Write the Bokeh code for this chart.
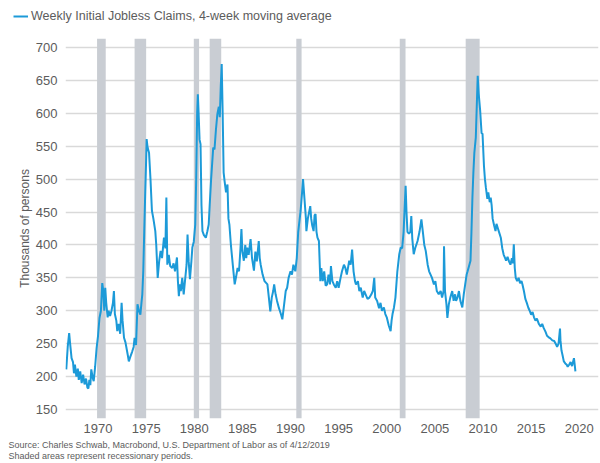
from bokeh.plotting import figure
from bokeh.layouts import column, row
from bokeh.models import (Range1d, FixedTicker, BoxAnnotation, Legend, LegendItem, Title)
from bokeh.embed import file_html
from bokeh.resources import INLINE

# Weekly initial jobless claims, 4-week moving average (thousands)
years = [
    1966.7, 1966.85, 1967.0, 1967.1, 1967.25, 1967.4, 1967.5, 1967.6, 1967.75, 1967.9,
    1968.0, 1968.15, 1968.3, 1968.45, 1968.6, 1968.75, 1968.9, 1969.0, 1969.1, 1969.2,
    1969.3, 1969.45, 1969.55, 1969.7, 1969.85, 1970.0, 1970.15, 1970.3, 1970.44, 1970.55,
    1970.65, 1970.75, 1970.85, 1971.0, 1971.1, 1971.25, 1971.4, 1971.55, 1971.65, 1971.75,
    1971.9, 1972.0, 1972.15, 1972.3, 1972.45, 1972.55, 1972.7, 1972.85, 1973.0, 1973.1,
    1973.2, 1973.35, 1973.55, 1973.7, 1973.8, 1973.95, 1974.1, 1974.25, 1974.4, 1974.5,
    1974.6, 1974.7, 1974.8, 1974.9, 1975.0, 1975.05, 1975.15, 1975.3, 1975.45, 1975.6,
    1975.75, 1975.95, 1976.05, 1976.2, 1976.35, 1976.5, 1976.65, 1976.85, 1977.0, 1977.1,
    1977.2, 1977.35, 1977.5, 1977.7, 1977.85, 1978.0, 1978.2, 1978.3, 1978.4, 1978.5,
    1978.6, 1978.75, 1978.9, 1979.0, 1979.1, 1979.2, 1979.3, 1979.42, 1979.55, 1979.7,
    1979.8, 1979.95, 1980.1, 1980.2, 1980.3, 1980.37, 1980.45, 1980.55, 1980.65, 1980.75,
    1980.85, 1981.0, 1981.2, 1981.35, 1981.5, 1981.6, 1981.75, 1981.97, 1982.1, 1982.25,
    1982.4, 1982.55, 1982.65, 1982.75, 1982.85, 1982.95, 1983.05, 1983.15, 1983.3, 1983.45,
    1983.55, 1983.65, 1983.8, 1984.0, 1984.2, 1984.35, 1984.5, 1984.65, 1984.8, 1984.9,
    1985.0, 1985.15, 1985.3, 1985.4, 1985.5, 1985.65, 1985.85, 1986.0, 1986.2, 1986.35,
    1986.5, 1986.7, 1986.8, 1986.9, 1987.1, 1987.3, 1987.6, 1987.75, 1987.9, 1988.05,
    1988.2, 1988.3, 1988.45, 1988.6, 1988.8, 1989.0, 1989.15, 1989.3, 1989.5, 1989.65,
    1989.8, 1990.0, 1990.15, 1990.3, 1990.5, 1990.65, 1990.8, 1991.05, 1991.2, 1991.3,
    1991.45, 1991.6, 1991.65, 1991.8, 1992.05, 1992.15, 1992.25, 1992.4, 1992.5, 1992.6,
    1992.7, 1992.8, 1992.95, 1993.1, 1993.2, 1993.35, 1993.5, 1993.65, 1993.8, 1993.95,
    1994.1, 1994.2, 1994.35, 1994.5, 1994.7, 1994.85, 1995.0, 1995.2, 1995.35, 1995.55,
    1995.7, 1995.85, 1996.1, 1996.25, 1996.4, 1996.55, 1996.7, 1996.8, 1997.0, 1997.15,
    1997.3, 1997.5, 1997.65, 1997.8, 1998.0, 1998.2, 1998.4, 1998.55, 1998.7, 1998.8,
    1999.0, 1999.2, 1999.35, 1999.5, 1999.7, 1999.85, 2000.0, 2000.2, 2000.4, 2000.5,
    2000.6, 2000.75, 2000.9, 2001.1, 2001.3, 2001.45, 2001.6, 2001.75, 2001.96, 2002.05,
    2002.15, 2002.3, 2002.45, 2002.55, 2002.65, 2002.8, 2002.95, 2003.2, 2003.4, 2003.6,
    2003.75, 2003.9, 2004.05, 2004.25, 2004.4, 2004.55, 2004.7, 2004.9, 2005.05, 2005.2,
    2005.4, 2005.6, 2005.75, 2005.9, 2005.95, 2006.05, 2006.2, 2006.3, 2006.45, 2006.6,
    2006.8, 2006.95, 2007.1, 2007.2, 2007.35, 2007.5, 2007.65, 2007.85, 2008.0, 2008.15,
    2008.3, 2008.4, 2008.55, 2008.7, 2008.8, 2008.9, 2009.0, 2009.1, 2009.25, 2009.35,
    2009.45, 2009.55, 2009.7, 2009.85, 2009.95, 2010.1, 2010.2, 2010.3, 2010.45, 2010.55,
    2010.7, 2010.8, 2010.9, 2011.0, 2011.15, 2011.3, 2011.4, 2011.55, 2011.7, 2011.85,
    2012.0, 2012.15, 2012.3, 2012.4, 2012.55, 2012.7, 2012.85, 2013.0, 2013.1, 2013.2,
    2013.3, 2013.4, 2013.55, 2013.7, 2013.85, 2014.0, 2014.1, 2014.25, 2014.4, 2014.55,
    2014.7, 2014.85, 2015.0, 2015.15, 2015.3, 2015.45, 2015.6, 2015.8, 2016.0, 2016.15,
    2016.3, 2016.5, 2016.65, 2016.8, 2017.0, 2017.2, 2017.4, 2017.55, 2017.7, 2017.85,
    2018.0, 2018.05, 2018.15, 2018.3, 2018.4, 2018.55, 2018.7, 2018.8, 2018.95, 2019.1,
    2019.25, 2019.45, 2019.55, 2019.6,
]
claims = [
    211, 245, 266, 250, 228, 222, 205, 218, 200, 212,
    195, 208, 190, 203, 188, 197, 183, 182, 195, 187,
    211, 198, 193, 215, 243, 262, 289, 300, 342, 330,
    300, 335, 312, 290, 300, 292, 300, 312, 330, 295,
    285, 269, 280, 265, 312, 285, 259, 252, 240, 232,
    223, 230, 238, 245, 259, 248, 310, 300, 294, 310,
    325, 360, 420, 477, 530, 561, 548, 540, 500, 452,
    440, 421, 400, 350, 375, 391, 380, 411, 395, 472,
    370, 385, 368, 365, 372, 360, 381, 345, 322, 340,
    330, 350, 325, 340, 355, 370, 416, 375, 348, 375,
    396, 405, 431, 500, 600, 629, 600, 560, 553, 460,
    421, 415, 411, 420, 431, 460, 500, 548, 545, 575,
    599, 610, 594, 640, 675, 600, 510, 497, 480, 492,
    440, 431, 401, 370, 340, 352, 365, 360, 395, 424,
    390, 376, 400, 380, 396, 385, 409, 380, 361, 390,
    375, 406, 380, 370, 355, 345, 340, 320, 299, 320,
    330, 340, 325, 315, 304, 295, 287, 305, 330, 335,
    350, 360, 355, 370, 360, 380, 420, 452, 480, 500,
    470, 440, 421, 440, 459, 440, 430, 421, 445, 447,
    420, 411, 406, 345, 365, 345, 360, 338, 340, 355,
    340, 368, 345, 340, 335, 345, 335, 350, 360, 370,
    365, 355, 376, 370, 393, 360, 345, 340, 345, 330,
    335, 320, 330, 325, 318, 320, 325, 330, 350, 320,
    315, 304, 312, 300, 305, 295, 290, 278, 269, 285,
    295, 305, 320, 360, 386, 396, 395, 420, 490, 450,
    420, 417, 420, 444, 410, 386, 395, 406, 420, 439,
    420, 400, 391, 370, 360, 355, 350, 340, 345, 330,
    325, 330, 320, 330, 398, 330, 310, 289, 310, 320,
    330, 315, 325, 315, 320, 330, 315, 305, 325, 340,
    355, 360, 368, 376, 420, 472, 510, 540, 563, 610,
    657, 630, 605, 570, 569, 520, 500, 487, 470, 480,
    465, 472, 460, 440, 430, 421, 432, 425, 418, 411,
    395, 385, 380, 376, 382, 375, 370, 380, 372, 401,
    365, 350, 345, 350, 342, 345, 340, 330, 318, 312,
    305, 300, 294, 298, 290, 285, 288, 280, 276, 280,
    274, 268, 262, 260, 258, 255, 254, 250, 245, 250,
    273, 255, 240, 230, 223, 220, 218, 215, 218, 222,
    216, 228, 215, 208,
]

# Recession periods (shaded), as placed in the picture
rec_start = [1969.9, 1973.8, 1979.95, 1981.6, 1990.6, 2001.35, 2008.2]
rec_end = [1970.8, 1975.0, 1980.5, 1982.8, 1991.15, 2001.95, 2009.65]

x_ticks = list(range(1970, 2021, 5))
y_ticks = list(range(150, 701, 50))

series_label = "Weekly Initial Jobless Claims, 4-week moving average"
y_label = "Thousands of persons"
source_note = "Source: Charles Schwab, Macrobond, U.S. Department of Labor as of 4/12/2019"
shade_note = "Shaded areas represent recessionary periods."

FONT = "Liberation Sans"
TXT = "#5c5c5c"
LINE = "#1c9ad8"

# --- legend strip on top (series key) ---
top = figure(width=600, height=38, output_backend="svg", toolbar_location=None,
             x_axis_location=None, y_axis_location=None,
             min_border_left=0, min_border_right=0, min_border_top=0, min_border_bottom=0,
             x_range=Range1d(0, 1), y_range=Range1d(0, 1))
top.outline_line_color = None
top.xgrid.grid_line_color = None
top.ygrid.grid_line_color = None
# same series, outside this strip's view; only its style is used for the key
key = top.line(years, claims, line_color=LINE, line_width=2)
legend = Legend(items=[LegendItem(label=series_label, renderers=[key])],
                location=(13, 15), margin=0, padding=0, spacing=0,
                glyph_width=15, glyph_height=14, label_height=14, label_standoff=3,
                label_text_font=FONT, label_text_font_size="12.5px", label_text_color=TXT,
                border_line_color=None, background_fill_alpha=0)
top.add_layout(legend, "center")

# --- main chart ---
p = figure(width=600, height=425, output_backend="svg", toolbar_location=None,
           x_range=Range1d(1966.62, 2022.0), y_range=Range1d(136.3, 713.7),
           min_border_left=65, min_border_right=2, min_border_top=0, min_border_bottom=45)
p.outline_line_color = None
p.background_fill_color = "white"
p.border_fill_color = "white"

for s, e in zip(rec_start, rec_end):
    p.add_layout(BoxAnnotation(left=s, right=e, fill_color="#c9cdd3", fill_alpha=1.0,
                               line_color=None, level="underlay"))

r = p.line(years, claims, line_color=LINE, line_width=2)

p.xaxis.ticker = FixedTicker(ticks=x_ticks)
p.yaxis.ticker = FixedTicker(ticks=y_ticks)
for ax in (p.xaxis[0], p.yaxis[0]):
    ax.axis_line_color = None
    ax.major_tick_line_color = None
    ax.minor_tick_line_color = None
    ax.major_tick_out = 0
    ax.major_tick_in = 0
    ax.minor_tick_out = 0
    ax.major_label_text_font = FONT
    ax.major_label_text_font_size = "13px"
    ax.major_label_text_color = TXT
p.xaxis.major_label_standoff = 5
p.yaxis.major_label_standoff = 8
p.yaxis.axis_label = y_label
p.yaxis.axis_label_text_font = FONT
p.yaxis.axis_label_text_font_size = "12px"
p.yaxis.axis_label_text_font_style = "normal"
p.yaxis.axis_label_text_color = TXT
p.yaxis.axis_label_standoff = 1

p.xgrid.grid_line_color = None
p.ygrid.grid_line_color = "#d9d9d9"
p.ygrid.grid_line_width = 1.5

notes = Title(text=source_note + "\n" + shade_note, align="left", offset=-57,
              text_font=FONT, text_font_size="9px", text_font_style="normal",
              text_color=TXT, text_line_height=1.1, standoff=5)
p.add_layout(notes, "below")

layout = column(row(top), p, spacing=0)
open("out.html", "w").write(file_html(layout, INLINE))
